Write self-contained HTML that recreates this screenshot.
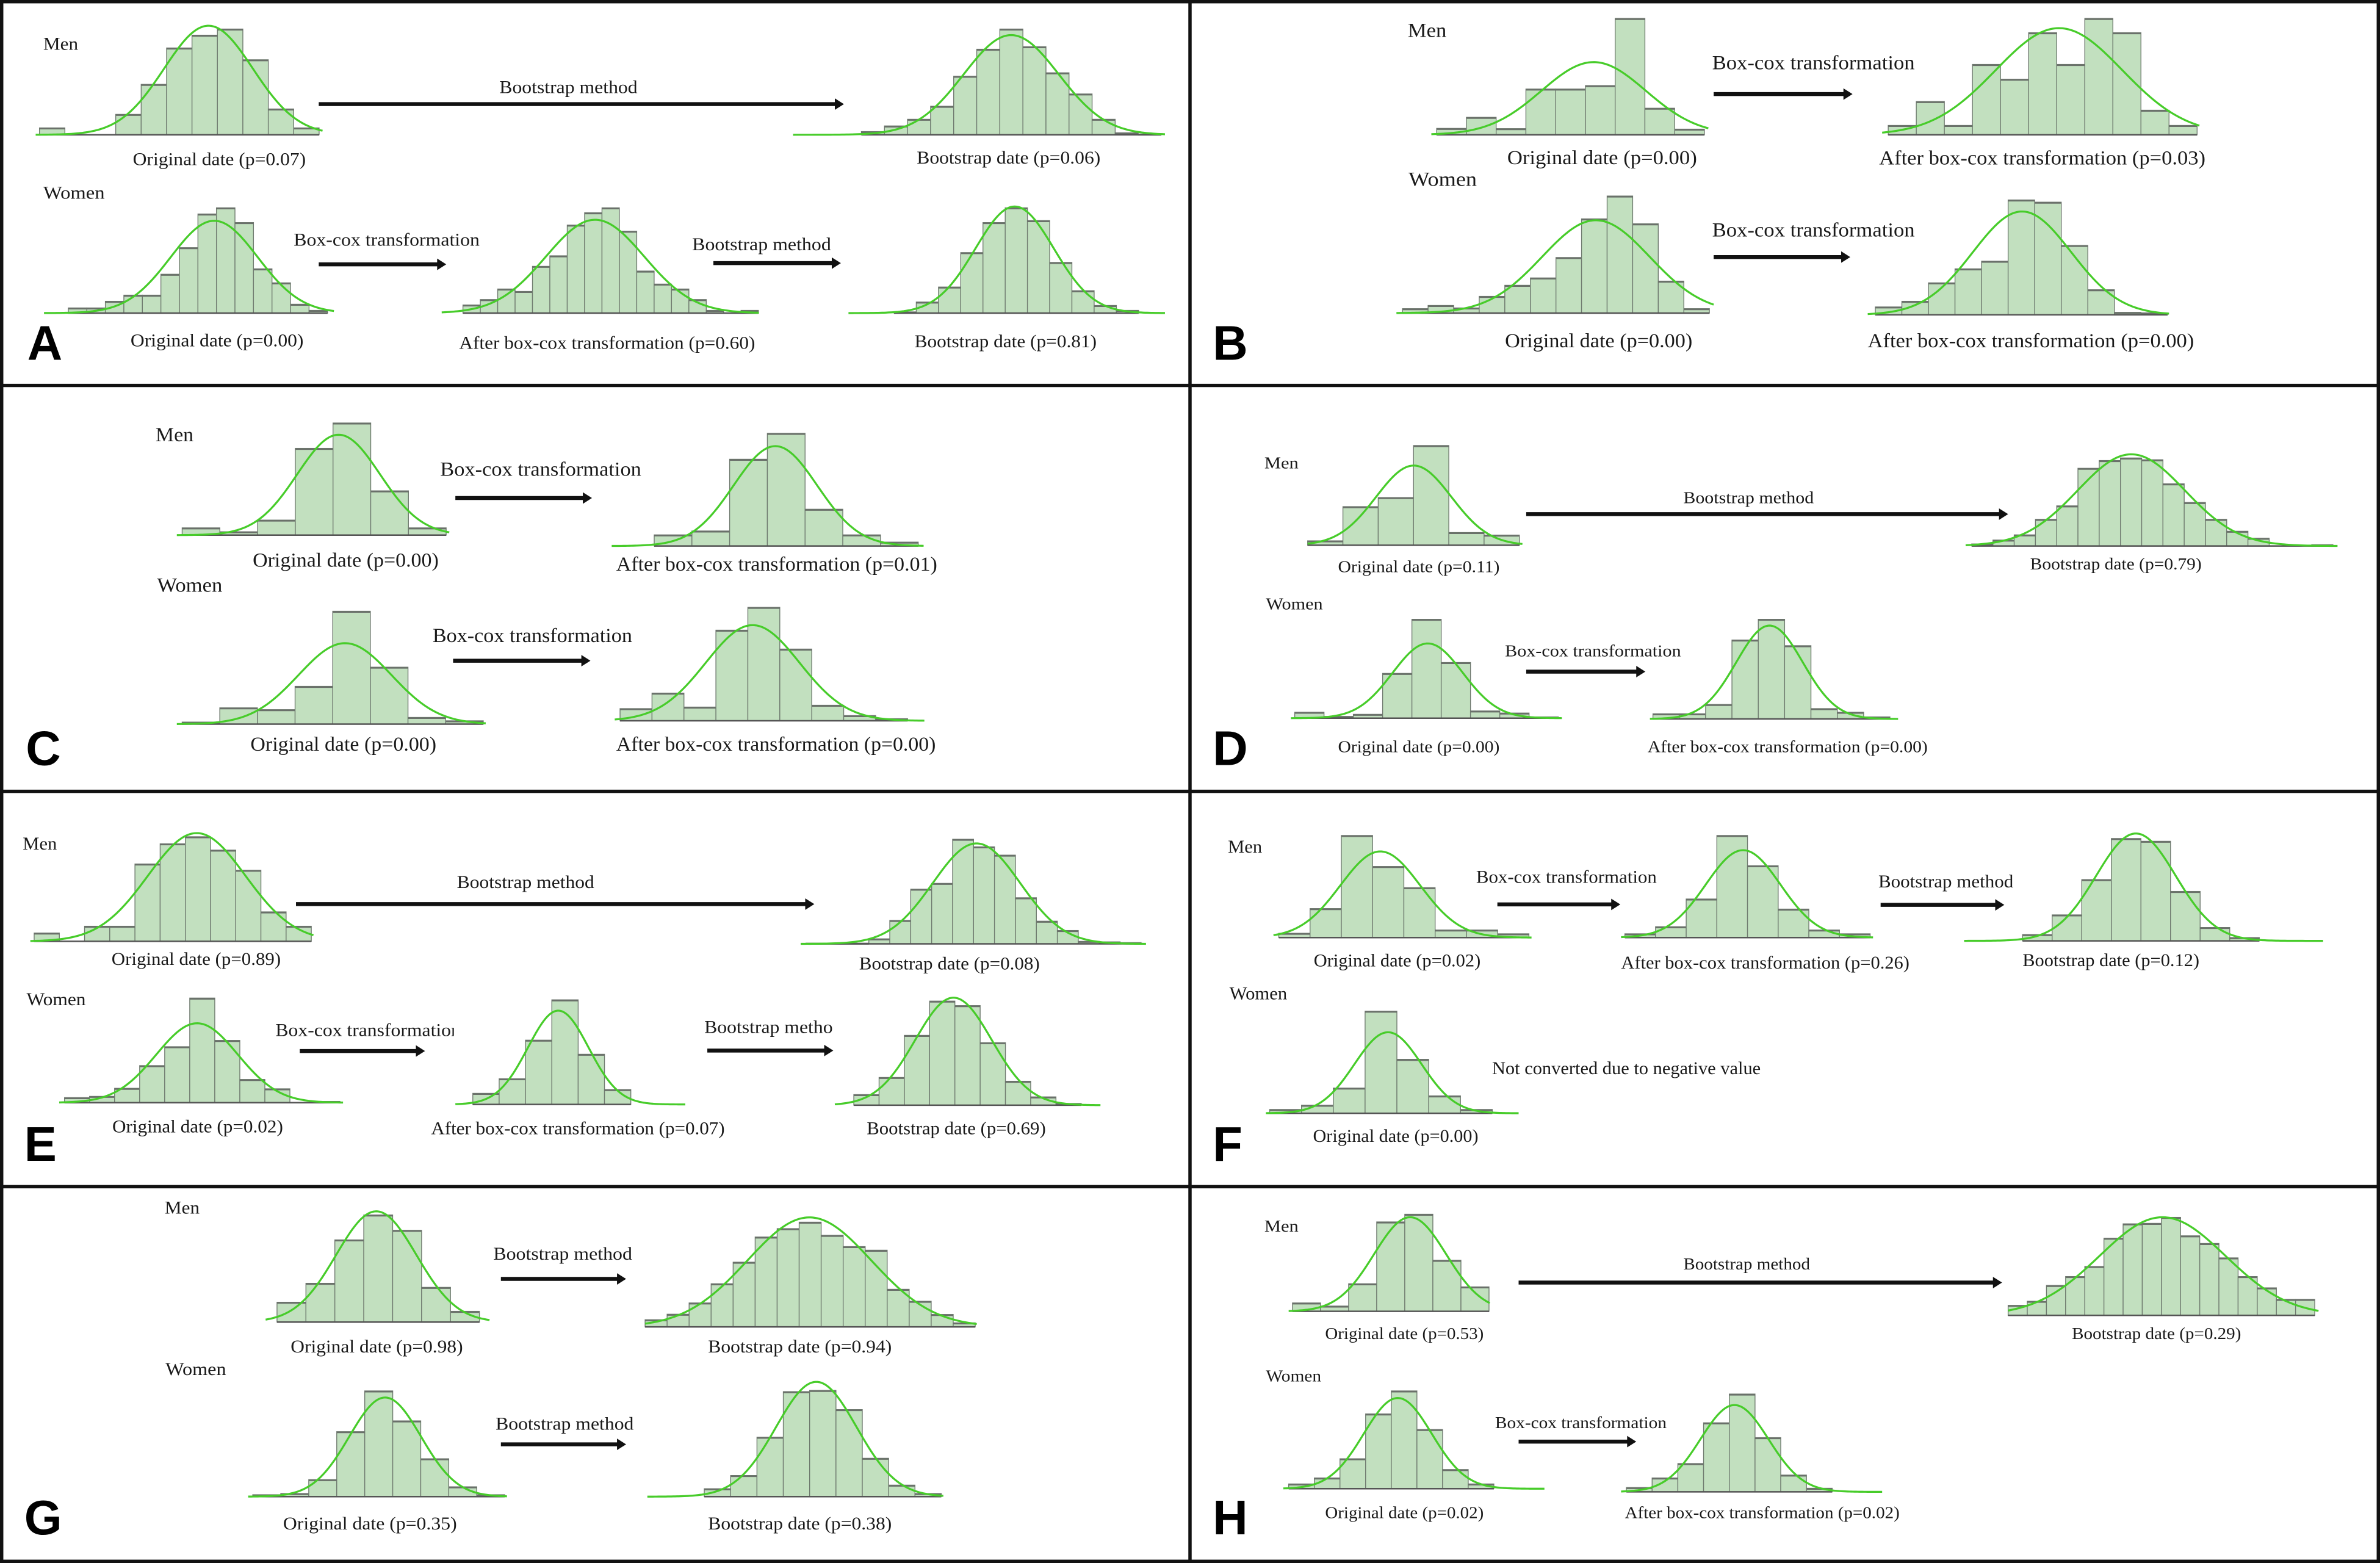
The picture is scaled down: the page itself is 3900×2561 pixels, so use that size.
<!DOCTYPE html>
<html><head><meta charset="utf-8">
<style>
html,body{margin:0;padding:0;background:#fff;}
svg{display:block;}
text{font-family:"Liberation Serif",serif;fill:#1a1a1a;}
.lt{font-family:"Liberation Sans",sans-serif;font-weight:bold;fill:#000;}
</style></head>
<body>
<svg id="fig" width="3900" height="2561" viewBox="0 0 1568 1030" preserveAspectRatio="none" xmlns="http://www.w3.org/2000/svg">
<rect x="0" y="0" width="1568" height="1030" fill="#fff"/>
<g id="hists"></g>
<g id="arrows" stroke="#111" fill="#111"></g>
<g stroke="#111" stroke-width="2.2" fill="none">
<rect x="1.1" y="1.1" width="1565.8" height="1027.8"/>
<line x1="784" y1="0" x2="784" y2="1030"/>
<line x1="0" y1="254" x2="1568" y2="254"/>
<line x1="0" y1="521.5" x2="1568" y2="521.5"/>
<line x1="0" y1="782" x2="1568" y2="782"/>
</g>
<defs><clipPath id="clipE1"><rect x="150" y="660" width="149" height="40"/></clipPath><clipPath id="clipE2"><rect x="440" y="660" width="109" height="40"/></clipPath></defs>
<g font-size="12" dominant-baseline="central">
<!-- A -->
<text x="28.5" y="29" textLength="23" lengthAdjust="spacingAndGlyphs">Men</text>
<text x="28.5" y="127" textLength="40.5" lengthAdjust="spacingAndGlyphs">Women</text>
<text x="329" y="57.5" textLength="91" lengthAdjust="spacingAndGlyphs">Bootstrap method</text>
<text x="87.5" y="105" textLength="114" lengthAdjust="spacingAndGlyphs">Original date (p=0.07)</text>
<text x="604" y="104" textLength="121" lengthAdjust="spacingAndGlyphs">Bootstrap date (p=0.06)</text>
<text x="193.5" y="158" textLength="122.5" lengthAdjust="spacingAndGlyphs">Box-cox transformation</text>
<text x="456" y="161" textLength="91.5" lengthAdjust="spacingAndGlyphs">Bootstrap method</text>
<text x="86" y="224.5" textLength="114" lengthAdjust="spacingAndGlyphs">Original date (p=0.00)</text>
<text x="302.5" y="226" textLength="195" lengthAdjust="spacingAndGlyphs">After box-cox transformation (p=0.60)</text>
<text x="602.5" y="225" textLength="120" lengthAdjust="spacingAndGlyphs">Bootstrap date (p=0.81)</text>
<text class="lt" x="18" y="226" font-size="32">A</text>
<!-- B -->
<text x="927.5" y="20" font-size="13" textLength="25.5" lengthAdjust="spacingAndGlyphs">Men</text>
<text x="928" y="118" font-size="13" textLength="45" lengthAdjust="spacingAndGlyphs">Women</text>
<text x="1128" y="41.3" font-size="13" textLength="133.5" lengthAdjust="spacingAndGlyphs">Box-cox transformation</text>
<text x="993" y="103.7" font-size="13" textLength="125" lengthAdjust="spacingAndGlyphs">Original date (p=0.00)</text>
<text x="1238" y="104" font-size="13" textLength="215" lengthAdjust="spacingAndGlyphs">After box-cox transformation (p=0.03)</text>
<text x="1128" y="151.5" font-size="13" textLength="133.5" lengthAdjust="spacingAndGlyphs">Box-cox transformation</text>
<text x="991.5" y="224.5" font-size="13" textLength="123.5" lengthAdjust="spacingAndGlyphs">Original date (p=0.00)</text>
<text x="1230.5" y="224.5" font-size="13" textLength="215" lengthAdjust="spacingAndGlyphs">After box-cox transformation (p=0.00)</text>
<text class="lt" x="799" y="226" font-size="32">B</text>
<!-- C -->
<text x="102.5" y="286.4" font-size="13" textLength="25" lengthAdjust="spacingAndGlyphs">Men</text>
<text x="103.5" y="385.4" font-size="13" textLength="43" lengthAdjust="spacingAndGlyphs">Women</text>
<text x="290" y="309" font-size="13" textLength="132.5" lengthAdjust="spacingAndGlyphs">Box-cox transformation</text>
<text x="166.5" y="369" font-size="13" textLength="122.5" lengthAdjust="spacingAndGlyphs">Original date (p=0.00)</text>
<text x="406" y="371.7" font-size="13" textLength="211.5" lengthAdjust="spacingAndGlyphs">After box-cox transformation (p=0.01)</text>
<text x="285" y="418.7" font-size="13" textLength="131.5" lengthAdjust="spacingAndGlyphs">Box-cox transformation</text>
<text x="165" y="490.3" font-size="13" textLength="122.5" lengthAdjust="spacingAndGlyphs">Original date (p=0.00)</text>
<text x="406" y="490.3" font-size="13" textLength="210.5" lengthAdjust="spacingAndGlyphs">After box-cox transformation (p=0.00)</text>
<text class="lt" x="17" y="493" font-size="32">C</text>
<!-- D -->
<text x="833" y="305" font-size="11" textLength="22.5" lengthAdjust="spacingAndGlyphs">Men</text>
<text x="834" y="398" font-size="11" textLength="37.5" lengthAdjust="spacingAndGlyphs">Women</text>
<text x="1109" y="328" font-size="11" textLength="86" lengthAdjust="spacingAndGlyphs">Bootstrap method</text>
<text x="881.5" y="373.5" font-size="11" textLength="106.5" lengthAdjust="spacingAndGlyphs">Original date (p=0.11)</text>
<text x="1337.5" y="371.7" font-size="11" textLength="113" lengthAdjust="spacingAndGlyphs">Bootstrap date (p=0.79)</text>
<text x="991.5" y="429" font-size="11" textLength="116" lengthAdjust="spacingAndGlyphs">Box-cox transformation</text>
<text x="881.5" y="492" font-size="11" textLength="106.5" lengthAdjust="spacingAndGlyphs">Original date (p=0.00)</text>
<text x="1085.5" y="492" font-size="11" textLength="184.5" lengthAdjust="spacingAndGlyphs">After box-cox transformation (p=0.00)</text>
<text class="lt" x="799" y="493" font-size="32">D</text>
<!-- E -->
<text x="15" y="556" textLength="22.5" lengthAdjust="spacingAndGlyphs">Men</text>
<text x="17.5" y="658.5" textLength="39" lengthAdjust="spacingAndGlyphs">Women</text>
<text x="301" y="581.3" textLength="90.5" lengthAdjust="spacingAndGlyphs">Bootstrap method</text>
<text x="73.5" y="632" textLength="111.5" lengthAdjust="spacingAndGlyphs">Original date (p=0.89)</text>
<text x="566" y="635" textLength="119" lengthAdjust="spacingAndGlyphs">Bootstrap date (p=0.08)</text>
<g clip-path="url(#clipE1)"><text x="181.5" y="678.8" textLength="122" lengthAdjust="spacingAndGlyphs">Box-cox transformation</text></g>
<g clip-path="url(#clipE2)"><text x="464" y="676.8" textLength="91" lengthAdjust="spacingAndGlyphs">Bootstrap method</text></g>
<text x="74" y="742.4" textLength="112.5" lengthAdjust="spacingAndGlyphs">Original date (p=0.02)</text>
<text x="284" y="743.7" textLength="193.5" lengthAdjust="spacingAndGlyphs">After box-cox transformation (p=0.07)</text>
<text x="571" y="743.7" textLength="118" lengthAdjust="spacingAndGlyphs">Bootstrap date (p=0.69)</text>
<text class="lt" x="16" y="754" font-size="32">E</text>
<!-- F -->
<text x="809" y="558" textLength="22.5" lengthAdjust="spacingAndGlyphs">Men</text>
<text x="810" y="654.7" textLength="38" lengthAdjust="spacingAndGlyphs">Women</text>
<text x="972.5" y="578" textLength="119" lengthAdjust="spacingAndGlyphs">Box-cox transformation</text>
<text x="1237.5" y="581" textLength="89" lengthAdjust="spacingAndGlyphs">Bootstrap method</text>
<text x="865.5" y="633" textLength="110" lengthAdjust="spacingAndGlyphs">Original date (p=0.02)</text>
<text x="1068" y="634.5" textLength="190" lengthAdjust="spacingAndGlyphs">After box-cox transformation (p=0.26)</text>
<text x="1332.5" y="632.8" textLength="116.5" lengthAdjust="spacingAndGlyphs">Bootstrap date (p=0.12)</text>
<text x="983" y="704" textLength="177" lengthAdjust="spacingAndGlyphs">Not converted due to negative value</text>
<text x="865" y="748.6" textLength="109" lengthAdjust="spacingAndGlyphs">Original date (p=0.00)</text>
<text class="lt" x="799" y="754" font-size="32">F</text>
<!-- G -->
<text x="108.5" y="796" textLength="23" lengthAdjust="spacingAndGlyphs">Men</text>
<text x="109" y="902.4" textLength="40" lengthAdjust="spacingAndGlyphs">Women</text>
<text x="325" y="826.2" textLength="91.5" lengthAdjust="spacingAndGlyphs">Bootstrap method</text>
<text x="191.5" y="887.5" textLength="113.5" lengthAdjust="spacingAndGlyphs">Original date (p=0.98)</text>
<text x="466.5" y="887.5" textLength="121" lengthAdjust="spacingAndGlyphs">Bootstrap date (p=0.94)</text>
<text x="326.5" y="938.4" textLength="91" lengthAdjust="spacingAndGlyphs">Bootstrap method</text>
<text x="186.5" y="1004" textLength="114.5" lengthAdjust="spacingAndGlyphs">Original date (p=0.35)</text>
<text x="466.5" y="1004" textLength="121" lengthAdjust="spacingAndGlyphs">Bootstrap date (p=0.38)</text>
<text class="lt" x="16" y="1000" font-size="32">G</text>
<!-- H -->
<text x="833" y="808" font-size="11" textLength="22.5" lengthAdjust="spacingAndGlyphs">Men</text>
<text x="834" y="906.8" font-size="11" textLength="36.5" lengthAdjust="spacingAndGlyphs">Women</text>
<text x="1109" y="832.9" font-size="11" textLength="83.5" lengthAdjust="spacingAndGlyphs">Bootstrap method</text>
<text x="873" y="878.8" font-size="11" textLength="104.5" lengthAdjust="spacingAndGlyphs">Original date (p=0.53)</text>
<text x="1365" y="878.8" font-size="11" textLength="111.5" lengthAdjust="spacingAndGlyphs">Bootstrap date (p=0.29)</text>
<text x="985" y="937.6" font-size="11" textLength="113" lengthAdjust="spacingAndGlyphs">Box-cox transformation</text>
<text x="873" y="996.8" font-size="11" textLength="104.5" lengthAdjust="spacingAndGlyphs">Original date (p=0.02)</text>
<text x="1070.5" y="996.8" font-size="11" textLength="181" lengthAdjust="spacingAndGlyphs">After box-cox transformation (p=0.02)</text>
<text class="lt" x="799" y="1000" font-size="32">H</text>
</g>
</svg>
<script>
// ---- histogram counts (relative units) ----
const aMenOrig = [28,0,0,83,205,353,405,430,305,105,28];
const aMenBoot = [13,36,63,116,238,348,430,358,252,166,63,8,3];
const aWomenOrig = [21,21,48,73,73,158,266,403,428,368,180,123,36,11];
const aWomenBoxcox = [33,55,98,88,190,233,358,408,428,333,171,118,98,55,11,0,11];
const aWomenBoot = [5,45,106,246,368,428,376,206,91,31,11];
const bMenOrig = [26,71,25,186,186,200,473,108,23];
const bMenBoxcox = [38,135,38,286,226,415,286,473,415,100,38];
const bWomenOrig = [18,31,21,68,113,143,226,383,476,363,130,18];
const bWomenBoxcox = [32,55,130,187,218,467,458,282,102,10,8];
const cMenOrig = [28,13,58,335,433,171,28];
const cMenBoxcox = [43,58,335,435,142,43,15];
const cWomenOrig = [8,63,56,146,436,220,26,13];
const cWomenBoxcox = [47,107,53,350,438,277,60,20,8];
const dMenOrig = [17,149,184,385,49,39];
const dMenBoot = [8,23,43,103,155,300,330,340,333,240,168,103,57,30,0,0,5];
const dWomenOrig = [23,7,15,173,382,215,28,20,5];
const dWomenBoxcox = [20,20,56,305,385,283,40,26,8];
const eMenOrig = [33,0,60,60,307,387,415,362,282,117,60];
const eMenBoot = [3,3,3,20,93,217,240,415,385,352,183,90,53,10,8,5];
const eWomenOrig = [20,25,57,147,222,415,247,92,55,0,5];
const eWomenBoxcox = [44,102,255,415,199,59];
const eWomenBoot = [42,110,277,413,395,248,95,33,7];
const fMenOrig = [17,115,405,282,198,30,30,15];
const fMenBoxcox = [15,43,153,405,285,113,30,15];
const fMenBoot = [25,103,243,406,395,196,53,13];
const fWomenOrig = [15,32,100,405,214,69,15];
const gMenOrig = [83,162,343,447,383,145,45];
const gMenBoot = [30,53,100,180,270,375,410,437,382,335,320,157,107,52,17];
const gWomenOrig = [8,13,71,271,441,316,158,41,8];
const gWomenBoot = [33,88,248,438,443,363,160,48,13];
const hMenOrig = [35,22,115,373,405,213,102];
const hMenBoot = [42,59,125,162,204,322,382,384,409,332,300,240,162,115,67,67];
const hWomenOrig = [20,45,125,312,408,247,80,20];
const hWomenBoxcox = [18,58,118,288,408,226,70,15];

// layout: panel origin (px,py), vertical factor f, zoom-space start/bin width/baseline, curve extent
const charts = [
 {id:'a-men-orig',v:aMenOrig,px:0,py:0,f:6.17,zx:52,zw:33.5,zy:548,c0:47,c1:425},
 {id:'a-men-boot',v:aMenBoot,px:0,py:0,f:6.17,zx:1135,zw:30.4,zy:548,c0:1045,c1:1535},
 {id:'a-women-orig',v:aWomenOrig,px:0,py:0,f:6.17,zx:90,zw:24.4,zy:1273,c0:58,c1:440},
 {id:'a-women-boxcox',v:aWomenBoxcox,px:0,py:0,f:6.17,zx:610,zw:22.9,zy:1273,c0:582,c1:1000},
 {id:'a-women-boot',v:aWomenBoot,px:0,py:0,f:6.17,zx:1178,zw:29.3,zy:1273,c0:1118,c1:1535},
 {id:'b-men-orig',v:bMenOrig,px:784,py:0,f:6.17,zx:325,zw:39.2,zy:548,c0:318,c1:683},
 {id:'b-men-boxcox',v:bMenBoxcox,px:784,py:0,f:6.17,zx:920,zw:37,zy:548,c0:912,c1:1330},
 {id:'b-women-orig',v:bWomenOrig,px:784,py:0,f:6.17,zx:280,zw:33.7,zy:1273,c0:272,c1:690},
 {id:'b-women-boxcox',v:bWomenBoxcox,px:784,py:0,f:6.17,zx:903,zw:35,zy:1280,c0:893,c1:1290},
 {id:'c-men-orig',v:cMenOrig,px:0,py:254,f:5.86,zx:240,zw:49.7,zy:578,c0:233,c1:592},
 {id:'c-men-boxcox',v:cMenBoxcox,px:0,py:254,f:5.86,zx:862,zw:49.7,zy:620,c0:806,c1:1217},
 {id:'c-women-orig',v:cWomenOrig,px:0,py:254,f:5.86,zx:240,zw:49.6,zy:1308,c0:233,c1:640},
 {id:'c-women-boxcox',v:cWomenBoxcox,px:0,py:254,f:5.86,zx:817,zw:42.1,zy:1295,c0:810,c1:1218},
 {id:'d-men-orig',v:dMenOrig,px:784,py:254,f:5.86,zx:155,zw:46.5,zy:617,c0:155,c1:438},
 {id:'d-men-boot',v:dMenBoot,px:784,py:254,f:5.86,zx:1030,zw:28,zy:620,c0:1022,c1:1512},
 {id:'d-women-orig',v:dWomenOrig,px:784,py:254,f:5.86,zx:138,zw:38.6,zy:1285,c0:133,c1:490},
 {id:'d-women-boxcox',v:dWomenBoxcox,px:784,py:254,f:5.86,zx:610,zw:34.7,zy:1288,c0:606,c1:933},
 {id:'e-men-orig',v:eMenOrig,px:0,py:521.5,f:6.02,zx:45,zw:33.2,zy:595,c0:40,c1:413},
 {id:'e-men-boot',v:eMenBoot,px:0,py:521.5,f:6.02,zx:1062,zw:27.6,zy:605,c0:1055,c1:1510},
 {id:'e-women-orig',v:eWomenOrig,px:0,py:521.5,f:6.02,zx:85,zw:33,zy:1235,c0:78,c1:452},
 {id:'e-women-boxcox',v:eWomenBoxcox,px:0,py:521.5,f:6.02,zx:623,zw:34.7,zy:1242,c0:600,c1:903},
 {id:'e-women-boot',v:eWomenBoot,px:0,py:521.5,f:6.02,zx:1125,zw:33.3,zy:1245,c0:1100,c1:1450},
 {id:'f-men-orig',v:fMenOrig,px:784,py:521.5,f:6.02,zx:117,zw:41.2,zy:580,c0:110,c1:450},
 {id:'f-men-boxcox',v:fMenBoxcox,px:784,py:521.5,f:6.02,zx:573,zw:40.4,zy:580,c0:568,c1:900},
 {id:'f-men-boot',v:fMenBoot,px:784,py:521.5,f:6.02,zx:1097,zw:39,zy:593,c0:1020,c1:1493},
 {id:'f-women-orig',v:fWomenOrig,px:784,py:521.5,f:6.02,zx:105,zw:41.9,zy:1277,c0:100,c1:433},
 {id:'g-men-orig',v:gMenOrig,px:0,py:782,f:6.33,zx:365,zw:38.1,zy:565,c0:350,c1:645},
 {id:'g-men-boot',v:gMenBoot,px:0,py:782,f:6.33,zx:850,zw:29,zy:585,c0:850,c1:1287},
 {id:'g-women-orig',v:gWomenOrig,px:0,py:782,f:6.33,zx:333,zw:36.9,zy:1293,c0:327,c1:668},
 {id:'g-women-boot',v:gWomenBoot,px:0,py:782,f:6.33,zx:928,zw:34.7,zy:1293,c0:853,c1:1243},
 {id:'h-men-orig',v:hMenOrig,px:784,py:782,f:6.33,zx:135,zw:37,zy:520,c0:130,c1:395},
 {id:'h-men-boot',v:hMenBoot,px:784,py:782,f:6.33,zx:1078,zw:25.25,zy:537,c0:1078,c1:1487},
 {id:'h-women-orig',v:hWomenOrig,px:784,py:782,f:6.33,zx:130,zw:33.8,zy:1260,c0:123,c1:467},
 {id:'h-women-boxcox',v:hWomenBoxcox,px:784,py:782,f:6.33,zx:575,zw:33.9,zy:1273,c0:568,c1:912}
];

const NS='http://www.w3.org/2000/svg';
const hg=document.getElementById('hists');
function mk(tag,attrs,parent){const e=document.createElementNS(NS,tag);for(const k in attrs)e.setAttribute(k,attrs[k]);parent.appendChild(e);return e;}

charts.forEach(c=>{
  const k=1/c.f;
  const xScale=i=>c.px+(c.zx+i*c.zw)/2;
  const yScale=val=>c.py+(c.zy-val)*k;
  const base=yScale(0);
  const w=c.zw/2;
  const g=mk('g',{},hg);
  
  
  c.v.forEach((val,i)=>{
    if(val<=0) return;
    const r=mk('rect',{x:xScale(i),y:yScale(val),width:w,height:base-yScale(val),fill:'#c2e0bf',stroke:'#6f7a6f','stroke-width':0.55},g);
    
    
    const t=mk('line',{x1:xScale(i),x2:xScale(i+1),y1:yScale(val)+0.5,y2:yScale(val)+0.5,stroke:'#6a706a','stroke-width':1},g);
    
    
  });
  const bl=mk('line',{x1:xScale(0),x2:xScale(c.v.length),y1:base,y2:base,stroke:'#555','stroke-width':1},g);
  
  
  // normal fit from data
  let N=0,m=0;c.v.forEach((v,i)=>{N+=v;m+=v*(i+0.5);});m/=N;
  let s2=0;c.v.forEach((v,i)=>{s2+=v*Math.pow(i+0.5-m,2);});const s=Math.sqrt(s2/N);
  const X0=c.px+c.c0/2,X1=c.px+c.c1/2;let d='';
  for(let j=0;j<=160;j++){
    const X=X0+(X1-X0)*j/160;const t=(X-xScale(0))/w;
    const y=N/(s*Math.sqrt(2*Math.PI))*Math.exp(-Math.pow(t-m,2)/(2*s*s));
    d+=(j?'L':'M')+X.toFixed(2)+' '+yScale(y).toFixed(2);
  }
  const p=mk('path',{d:d,fill:'none',stroke:'#47cc2a','stroke-width':1.3},g);
  
  
});

// arrows [x1,x2,y] in overview coords
const arrowList=[[210,556,68.6],[210,294,174.2],[470,554,173.4],[1129,1220.5,62],[1129,1219,169.4],
 [300,390,328.2],[298.5,389,435.4],[1005.5,1323,338.8],[1005.5,1084,442.6],
 [195,536.5,595.8],[197.5,280,692.6],[466,549,692.3],[986.5,1067.5,596],[1239,1320.5,596.3],
 [330,412.5,842.8],[330,412.5,951.8],[1000.5,1319,845.2],[1000.5,1078,950]];
const ag=document.getElementById('arrows');
arrowList.forEach((a,i)=>{
  const g=mk('g',{},ag);
  
  
  mk('line',{x1:a[0],x2:a[1]-5,y1:a[2],y2:a[2],'stroke-width':2.6},g);
  mk('polygon',{points:`${a[1]-6},${a[2]-3.8} ${a[1]},${a[2]} ${a[1]-6},${a[2]+3.8}`,stroke:'none'},g);
});
</script>
</body></html>
